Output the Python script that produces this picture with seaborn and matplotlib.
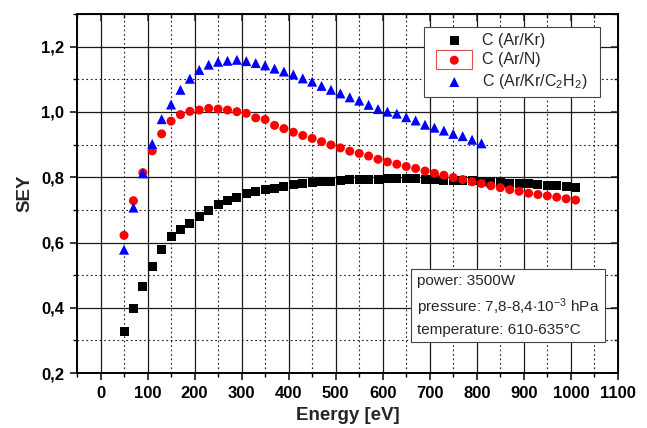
import numpy as np
import pandas as pd
import matplotlib.pyplot as plt
import matplotlib.patches as patches
from matplotlib.ticker import MultipleLocator, FixedLocator
import seaborn as sns

# energies in eV
energy = list(range(50, 1011, 20))
energy_blue = list(range(50, 811, 20))

sey_arkr = [0.328, 0.398, 0.465, 0.525, 0.578, 0.617, 0.639, 0.659, 0.679, 0.699,
            0.716, 0.728, 0.739, 0.749, 0.755, 0.763, 0.767, 0.773, 0.778, 0.781,
            0.783, 0.788, 0.788, 0.790, 0.792, 0.793, 0.794, 0.794, 0.796, 0.796,
            0.796, 0.795, 0.794, 0.793, 0.790, 0.789, 0.789, 0.789, 0.787, 0.785,
            0.783, 0.781, 0.781, 0.780, 0.777, 0.775, 0.774, 0.772, 0.770]
sey_arn = [0.622, 0.728, 0.814, 0.881, 0.933, 0.972, 0.992, 1.002, 1.006, 1.011,
           1.009, 1.006, 1.001, 0.996, 0.982, 0.977, 0.959, 0.949, 0.938, 0.928,
           0.919, 0.909, 0.899, 0.890, 0.880, 0.873, 0.865, 0.855, 0.847, 0.840,
           0.833, 0.827, 0.819, 0.812, 0.806, 0.799, 0.793, 0.786, 0.781, 0.774,
           0.768, 0.762, 0.757, 0.751, 0.747, 0.743, 0.739, 0.734, 0.730]
sey_arkrc2h2 = [0.578, 0.707, 0.812, 0.902, 0.978, 1.023, 1.068, 1.102, 1.129, 1.145,
                1.154, 1.157, 1.160, 1.156, 1.150, 1.143, 1.133, 1.124, 1.115, 1.103,
                1.093, 1.080, 1.068, 1.057, 1.045, 1.035, 1.022, 1.009, 1.001, 0.995,
                0.984, 0.974, 0.961, 0.952, 0.943, 0.933, 0.926, 0.915, 0.904]

labels = ['C (Ar/Kr)', 'C (Ar/N)', r'C (Ar/Kr/C$_2$H$_2$)']
colors = ['black', 'red', 'blue']
markers = ['s', 'o', '^']

y_ticks = [0.2, 0.4, 0.6, 0.8, 1.0, 1.2]
y_ticklabels = ['0,2', '0,4', '0,6', '0,8', '1,0', '1,2']
x_ticks = list(range(0, 1101, 100))

info = ['power: 3500W',
        r'pressure: 7,8-8,4$\cdot$10$^{-3}$ hPa',
        'temperature: 610-635°C']

sns.set_style('white')
plt.rcParams['font.family'] = ['Liberation Sans', 'DejaVu Sans']
plt.rcParams['mathtext.fontset'] = 'custom'
plt.rcParams['mathtext.rm'] = 'Liberation Sans'
plt.rcParams['mathtext.it'] = 'Liberation Sans'
plt.rcParams['mathtext.bf'] = 'Liberation Sans:bold'

fig = plt.figure(figsize=(6.47, 4.28), dpi=100)
ax = fig.add_axes([0.119, 0.1285, 0.836, 0.8385])

series = [(energy, sey_arkr), (energy, sey_arn), (energy_blue, sey_arkrc2h2)]
sizes = [42, 42, 52]
for (xs, ys), lab, c, m, s in zip(series, labels, colors, markers, sizes):
    df = pd.DataFrame({'E': xs, 'SEY': ys})
    sns.scatterplot(data=df, x='E', y='SEY', ax=ax, color=c, marker=m, s=s,
                    edgecolor='none', label=lab, zorder=3)

ax.set_xlim(-50, 1100)
ax.set_ylim(0.2, 1.3)
ax.xaxis.set_major_locator(FixedLocator(x_ticks))
ax.xaxis.set_minor_locator(MultipleLocator(50))
ax.yaxis.set_major_locator(FixedLocator(y_ticks))
ax.set_yticklabels(y_ticklabels)
ax.yaxis.set_minor_locator(MultipleLocator(0.1))

ax.grid(which='major', color='#1a1a1a', linewidth=0.9, linestyle='-')
ax.grid(which='minor', color='#1a1a1a', linewidth=0.8, linestyle=(0, (1.5, 2.5)))
ax.set_axisbelow(True)

for sp in ax.spines.values():
    sp.set_color('black')
    sp.set_linewidth(1.4)

ax.tick_params(which='both', direction='out', bottom=True, left=True,
               top=False, right=False, colors='black')
ax.tick_params(which='major', length=5, width=1.1, labelsize=12, pad=4)
ax.tick_params(which='minor', length=3, width=1.0)
for t in ax.get_xticklabels() + ax.get_yticklabels():
    t.set_fontweight('bold')

ax2 = ax.secondary_xaxis('top')
ax2.xaxis.set_major_locator(FixedLocator(x_ticks))
ax2.xaxis.set_minor_locator(MultipleLocator(50))
ax2.tick_params(which='both', direction='in', labeltop=False)
ax2.tick_params(which='major', length=5, width=1.1)
ax2.tick_params(which='minor', length=3, width=1.0)
ax3 = ax.secondary_yaxis('right')
ax3.yaxis.set_major_locator(FixedLocator(y_ticks))
ax3.yaxis.set_minor_locator(MultipleLocator(0.1))
ax3.tick_params(which='both', direction='in', labelright=False)
ax3.tick_params(which='major', length=5, width=1.1)
ax3.tick_params(which='minor', length=3, width=1.0)

ax.set_xlabel('Energy [eV]', fontsize=13.5, fontweight='bold', labelpad=5)
ax.set_ylabel('SEY', fontsize=13.5, fontweight='bold', labelpad=6)

leg = ax.legend(loc='upper left', bbox_to_anchor=(0.6414, 0.5, 0.3253, 0.464),
                mode='expand', fontsize=11.5,
                frameon=True, fancybox=False, edgecolor='#444444',
                framealpha=1, borderpad=0.35, handlelength=3.1, handletextpad=0.2,
                labelspacing=0.3, markerscale=1.0, borderaxespad=0)
leg.get_frame().set_linewidth(0.8)

# red selection box around the middle legend symbol
fig.canvas.draw()
tb = leg.get_texts()[1].get_window_extent()
yc = (tb.y0 + tb.y1) / 2
xc = tb.x0 - 28
fig.patches.append(patches.Rectangle(((xc - 18) / 647, (yc - 9.5) / 428), 36 / 647, 19 / 428,
                                     transform=fig.transFigure, fill=False,
                                     edgecolor='#e05050', linewidth=0.8, zorder=10))

ax.text(0.628, 0.1, '\n'.join(info), transform=ax.transAxes, fontsize=11,
        linespacing=1.5, va='bottom', ha='left',
        bbox=dict(boxstyle='square,pad=0.35', facecolor='white',
                  edgecolor='#444444', linewidth=0.8), zorder=5)

fig.savefig('out.png', dpi=100)
